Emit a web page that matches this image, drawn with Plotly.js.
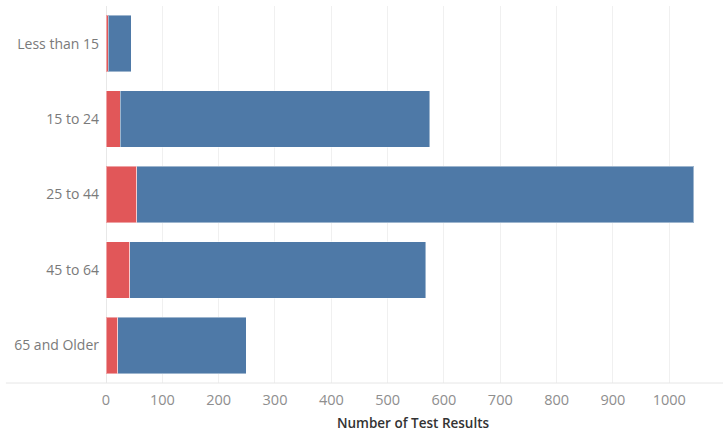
<!DOCTYPE html>
<html>
<head>
<meta charset="utf-8">
<script src="https://cdn.plot.ly/plotly-3.0.1.min.js"></script>
<style>
  html, body { margin: 0; padding: 0; background: #fff; }
  #chart { width: 728px; height: 434px; }
</style>
</head>
<body>
<div id="chart"></div>
<script>
const ageGroups = ["Less than 15", "15 to 24", "25 to 44", "45 to 64", "65 and Older"];
const positiveResults = [4, 25, 55, 42, 21];
const negativeResults = [41, 550, 988, 526, 228];
const xTickValues = [0, 100, 200, 300, 400, 500, 600, 700, 800, 900, 1000];

const barLine = { color: "rgba(255,255,255,0.45)", width: 1 };

const traces = [
  {
    type: "bar",
    orientation: "h",
    name: "Positive",
    y: ageGroups,
    x: positiveResults,
    marker: { color: "#E15759", line: barLine },
    hoverinfo: "x+y"
  },
  {
    type: "bar",
    orientation: "h",
    name: "Negative",
    y: ageGroups,
    x: negativeResults,
    marker: { color: "#4E79A7", line: barLine },
    hoverinfo: "x+y"
  }
];

const layout = {
  width: 728,
  height: 434,
  barmode: "stack",
  bargap: 0.25,
  showlegend: false,
  paper_bgcolor: "#ffffff",
  plot_bgcolor: "#ffffff",
  margin: { l: 106, r: 8, t: 6, b: 51, pad: 0 },
  font: { family: "Open Sans, Lato, sans-serif", color: "#7f7f7f" },
  xaxis: {
    range: [0, 1090],
    tickvals: xTickValues,
    ticktext: xTickValues.map(String),
    showgrid: true,
    gridcolor: "#f0f0f0",
    gridwidth: 1,
    zeroline: true,
    zerolinecolor: "#e8e8e8",
    zerolinewidth: 1,
    showline: false,
    ticks: "",
    ticklabelstandoff: 6,
    tickfont: { family: "Open Sans, sans-serif", size: 14.5, color: "#8e8e8e" },
    title: {
      text: "Number of Test Results",
      font: { family: "Open Sans, sans-serif", size: 13.5, color: "#333333", weight: 600 },
      standoff: 11
    },
    fixedrange: true
  },
  yaxis: {
    type: "category",
    categoryorder: "array",
    categoryarray: ageGroups,
    autorange: "reversed",
    showgrid: false,
    zeroline: false,
    showline: false,
    ticks: "",
    ticklabelstandoff: 6,
    tickfont: { family: "Open Sans, sans-serif", size: 14, color: "#7a7a7a" },
    fixedrange: true
  },
  shapes: [
    {
      type: "line",
      xref: "paper",
      yref: "paper",
      x0: -0.163,
      x1: 1.005,
      y0: 0,
      y1: 0,
      line: { color: "#e6e6e6", width: 1 }
    }
  ]
};

Plotly.newPlot("chart", traces, layout, { displayModeBar: false, staticPlot: true });
</script>
</body>
</html>
